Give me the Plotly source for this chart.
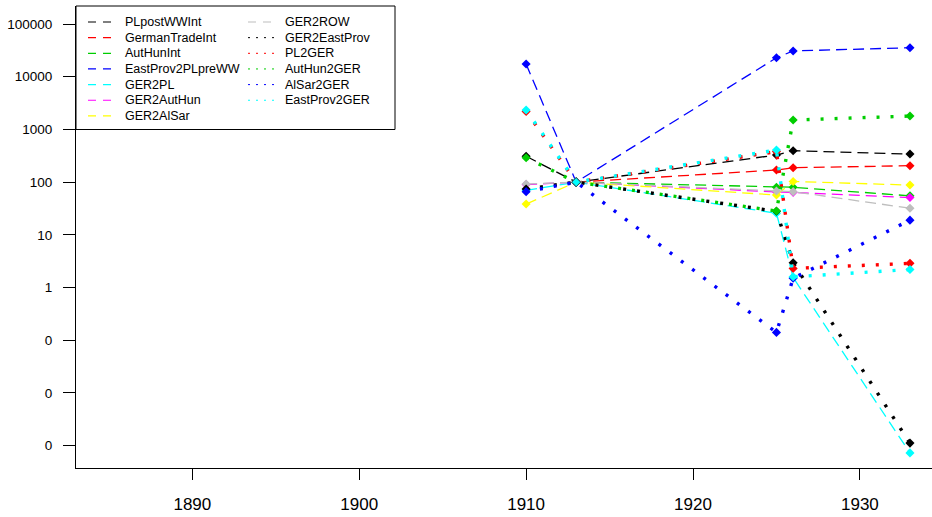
import plotly.graph_objects as go

# Trade indices (1913 = 100), log scale
years = [1910, 1913, 1925, 1926, 1933]

series_names = [
    "PLpostWWInt", "GermanTradeInt", "AutHunInt", "EastProv2PLpreWW",
    "GER2PL", "GER2AutHun", "GER2AlSar", "GER2ROW",
    "GER2EastProv", "PL2GER", "AutHun2GER", "AlSar2GER", "EastProv2GER",
]

PLpostWWInt = [310, 100, 327, 394, 341]
GermanTradeInt = [None, 100, 170, 188, 205]
AutHunInt = [None, 100, 80, 80, 55]
EastProv2PLpreWW = [17400, 100, 22900, 30800, 35500]
GER2PL = [70, 100, 25.7, 1.55, 0.00073]
GER2AutHun = [90, 100, 65, 64, 51]
GER2AlSar = [38.4, 100, 57, 103, 88]
GER2ROW = [92, 100, 68, 66, 32]
GER2EastProv = [74, 100, 28, 2.95, 0.00112]
PL2GER = [2200, 100, 380, 2.31, 2.88]
AutHun2GER = [290, 100, 28.3, 1507, 1795]
AlSar2GER = [66, 100, 0.141, 1.5, 19]
EastProv2GER = [2330, 100, 406, 1.6, 2.2]

series_values = [
    PLpostWWInt, GermanTradeInt, AutHunInt, EastProv2PLpreWW,
    GER2PL, GER2AutHun, GER2AlSar, GER2ROW,
    GER2EastProv, PL2GER, AutHun2GER, AlSar2GER, EastProv2GER,
]

# R default palette
colors = [
    "#000000", "#FF0000", "#00CD00", "#0000FF", "#00FFFF", "#FF00FF",
    "#FFFF00", "#BEBEBE", "#000000", "#FF0000", "#00CD00", "#0000FF", "#00FFFF",
]
styles = ["dash"] * 8 + ["dot"] * 5

x_ticks = [1890, 1900, 1910, 1920, 1930]
y_ticks = [1e5, 1e4, 1e3, 1e2, 1e1, 1, 0.1, 0.01, 0.001]
y_tick_labels = ["100000", "10000", "1000", "100", "10", "1", "0", "0", "0"]

FONT = "Liberation Sans, Arial, Helvetica, sans-serif"

# plot area in pixels
PL, PR, PT, PB = 76, 932, 6, 468
PW, PH = PR - PL, PB - PT


def fx(px):
    return (px - PL) / PW


def fy(py):
    return (PB - py) / PH


fig = go.Figure()

for i, (name, vals) in enumerate(zip(series_names, series_values)):
    if styles[i] == "dash":
        line = dict(color=colors[i], width=1.3, dash="11px,6px")
    else:
        line = dict(color=colors[i], width=3.4, dash="3px,11px")
    mline = dict(width=0)
    if i == len(series_names) - 1:
        mline = dict(width=[0, 1, 0, 0, 0], color="#2f4f4f")
    fig.add_trace(go.Scatter(
        x=years, y=vals, name=name, mode="lines+markers",
        line=line,
        marker=dict(symbol="diamond", size=7, color=colors[i], line=mline),
        showlegend=False, connectgaps=False,
    ))

# legend: box, line samples and labels in two columns
shapes = [dict(type="rect", xref="paper", yref="paper",
               x0=fx(76), x1=fx(395), y0=fy(6), y1=fy(129.5),
               line=dict(color="#000000", width=1), fillcolor="white",
               layer="below")]
annotations = []
row_y0, row_step = 22, 15.65
for i, name in enumerate(series_names):
    col = 0 if i < 7 else 1
    row = i if i < 7 else i - 7
    yy = row_y0 + row * row_step
    sx0, sx1, tx = (88, 113, 123) if col == 0 else (248, 274, 283)
    if styles[i] == "dash":
        ln = dict(color=colors[i], width=1.2, dash="8px,7px")
    else:
        ln = dict(color=colors[i], width=1, dash="2px,6px")
    shapes.append(dict(type="line", xref="paper", yref="paper",
                       x0=fx(sx0), x1=fx(sx1), y0=fy(yy), y1=fy(yy), line=ln))
    annotations.append(dict(xref="paper", yref="paper", x=fx(tx), y=fy(yy),
                            text=name, showarrow=False, xanchor="left",
                            yanchor="middle",
                            font=dict(family=FONT, size=12.5, color="#000000")))

fig.update_layout(
    width=932, height=517,
    margin=dict(l=PL, r=932 - PR, t=PT, b=517 - PB, pad=0),
    paper_bgcolor="white", plot_bgcolor="white",
    shapes=shapes, annotations=annotations,
    showlegend=False,
    xaxis=dict(
        range=[1883.03, 1934.32], tickvals=x_ticks,
        ticktext=[str(v) for v in x_ticks],
        ticks="outside", ticklen=11, tickwidth=1, tickcolor="#000000",
        showline=True, linecolor="#000000", linewidth=1, mirror=False,
        showgrid=False, zeroline=False,
        tickfont=dict(family=FONT, size=17, color="#000000"),
        ticklabelstandoff=10,
    ),
    yaxis=dict(
        type="log", range=[-3.423, 5.3415], tickvals=y_ticks,
        ticktext=y_tick_labels,
        ticks="outside", ticklen=12, tickwidth=1, tickcolor="#000000",
        showline=True, linecolor="#000000", linewidth=1, mirror=False,
        showgrid=False, zeroline=False,
        tickfont=dict(family=FONT, size=13.5, color="#000000"),
        ticklabelstandoff=8,
    ),
)

fig.write_html("out.html")
